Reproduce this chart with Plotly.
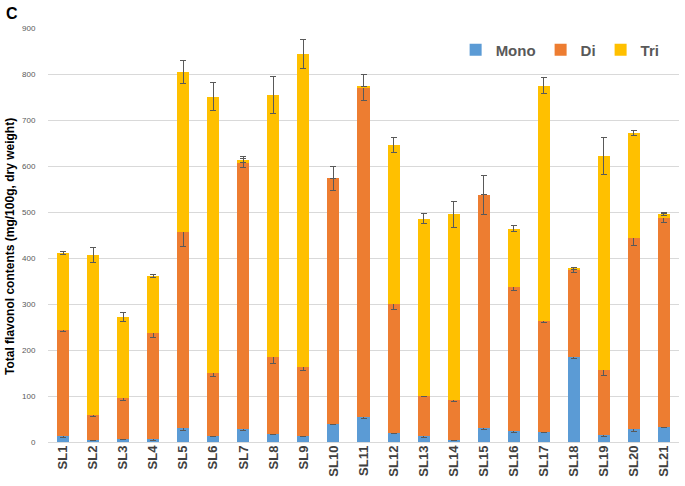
import plotly.graph_objects as go

categories = [f"SL{i}" for i in range(1, 22)]

mono = [13.5, 3.5, 6, 7, 30, 13.5, 28, 18, 14, 40, 53.5, 19.5, 12, 5, 29.5, 24.5, 22.5, 184, 15, 27.5, 33]
di = [230.5, 54.5, 90, 230, 426, 137.5, 579, 167, 150, 533, 717.5, 279.5, 88.5, 87, 507.5, 313, 241.5, 189, 141, 416, 454]
tri = [167, 349, 176, 124, 348, 600, 7, 569, 680, 0, 2, 346, 384.5, 403, 0, 126.5, 511, 5, 466, 228.5, 9]

mono_err = [3, 1, 1.5, 3, 4, 2, 3, 2, 1.5, 2, 2, 2, 2, 1.5, 2, 4, 2, 3, 2, 5, 1.5]
di_err = [4, 2, 5, 9, 31, 9, 10, 14, 8, 27, 28, 11, 2, 4, 42, 9, 4, 4, 11, 16, 10]
tri_err = [3, 16, 9, 3, 25, 30, 6, 40, 31, None, None, 16, 11, 28, None, 6, 17, 2, 41, 6, 3]

y_ticks = [0, 100, 200, 300, 400, 500, 600, 700, 800, 900]

colors = {"Mono": "#5B9BD5", "Di": "#ED7D31", "Tri": "#FFC000"}

fig = go.Figure()
for name, vals, errs in [("Mono", mono, mono_err), ("Di", di, di_err), ("Tri", tri, tri_err)]:
    fig.add_trace(go.Bar(
        x=categories, y=vals, name=name,
        marker=dict(color=colors[name], line=dict(width=0)),
        width=0.4,
        error_y=dict(type="data", array=errs, visible=True,
                     color="#595959", thickness=1, width=3),
    ))

fig.update_layout(
    barmode="stack",
    width=685, height=486,
    margin=dict(l=48, r=6, t=28, b=44),
    paper_bgcolor="white", plot_bgcolor="white",
    font=dict(family="Liberation Sans, Arial, sans-serif", color="#595959"),
    legend=dict(orientation="h", x=0.646, y=0.947, xanchor="left", yanchor="middle",
                font=dict(size=15, color="#595959", family="Liberation Sans, Arial, sans-serif", weight="bold"),
                bgcolor="rgba(0,0,0,0)", traceorder="normal"),
    xaxis=dict(tickangle=-90, showgrid=False, showline=False, ticks="",
               tickfont=dict(size=13, color="#404040", weight="bold"),
               automargin=False),
    yaxis=dict(range=[0, 900], tickvals=y_ticks, showgrid=True, gridcolor="#d9d9d9",
               zeroline=True, zerolinecolor="#d9d9d9", zerolinewidth=1,
               showline=False, ticks="outside", ticklen=10, tickcolor="rgba(0,0,0,0)",
               tickfont=dict(size=8, color="#595959"), automargin=False),
    showlegend=True,
)

# paper coordinates: x = (px - 48) / 631, y = (442 - py) / 414
fig.add_annotation(text="Total flavonol contents (mg/100g, dry weight)", textangle=-90,
                   xref="paper", yref="paper", x=(10 - 48) / 631, y=(442 - 247) / 414,
                   xanchor="center", yanchor="middle", showarrow=False,
                   font=dict(size=12, color="black", weight="bold"))
fig.add_annotation(text="C", xref="paper", yref="paper", x=(12 - 48) / 631, y=(442 - 13) / 414,
                   xanchor="center", yanchor="middle", showarrow=False,
                   font=dict(size=16, color="black", weight="bold"))

fig.write_html("out.html", config={"displayModeBar": False},
               post_script="document.body.style.margin='0px';")
